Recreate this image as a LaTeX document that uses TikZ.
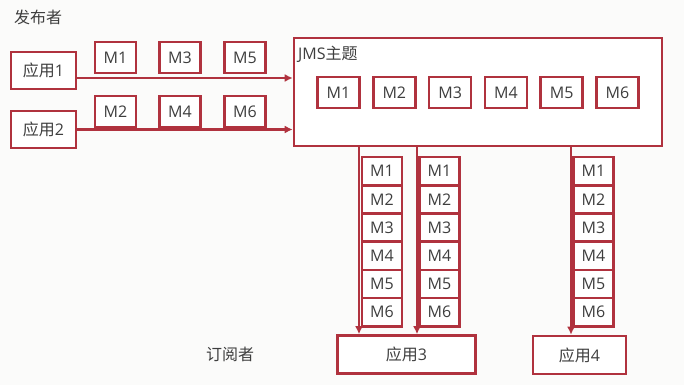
\documentclass[tikz,border=0pt]{standalone}
\usepackage{fontspec}
\setmainfont{Open Sans}
\newfontfamily\cjk{Noto Sans CJK SC}
\usetikzlibrary{arrows.meta,shadows}
\definecolor{jmsred}{RGB}{176,50,62}
\definecolor{txtgray}{RGB}{62,62,62}
\definecolor{paper}{RGB}{251,251,250}

\begin{document}
\begin{tikzpicture}[x=1pt, y=-1pt, every node/.style={font=\fontsize{16}{18}\selectfont, text=txtgray}, >={Latex[length=8pt,width=8pt]},
	box/.style={draw=jmsred, line width=2.6pt, fill=white, inner sep=0pt, drop shadow={shadow xshift=1.2pt, shadow yshift=-1.2pt, opacity=0.25}},
	msg/.style={box, minimum width=41pt, minimum height=31pt},
	cell/.style={box, minimum width=40pt, minimum height=28.2pt},
	link/.style={->, draw=jmsred, line width=2.2pt}]
	\fill[paper] (0,0) rectangle (684,385);
	\useasboundingbox (0,0) rectangle (684,385);
	\node (pub) at (38,17) {\cjk 发布者};
	\node (sub) at (230,354) {\cjk 订阅者};
	% publishers and queued messages
	\node[box, minimum width=65pt, minimum height=37pt] (app1) at (43.5,70.5) {{\cjk 应用}1};
	\node[box, minimum width=65pt, minimum height=37pt] (app2) at (43.5,129.5) {{\cjk 应用}2};
	\node[msg] (p1) at (115.5,57.5) {M1};
	\node[msg] (p3) at (180,57.5) {M3};
	\node[msg] (p5) at (245,57.5) {M5};
	\node[msg] (p2) at (115.5,111.5) {M2};
	\node[msg] (p4) at (180,111.5) {M4};
	\node[msg] (p6) at (245,111.5) {M6};
	% topic
	\node[box, minimum width=368pt, minimum height=108pt] (topic) at (478,92) {};
	\node[anchor=west, inner sep=0pt] (topicname) at (298,54) {JMS{\cjk 主题}};
	\foreach \i in {1,...,6}
		\node[msg, minimum width=42pt] (t\i) at (338.5+55.8*\i-55.8,92.5) {M\i};
	\draw[link] ([yshift=-7.5pt]app1.east) coordinate (a1) -- (a1 -| topic.west);
	\draw[link] (app2.east) -- (app2.east -| topic.west);
	% subscribers
	\node[box, minimum width=138pt, minimum height=38pt] (app3) at (406.5,354.5) {{\cjk 应用}3};
	\node[box, minimum width=93pt, minimum height=38pt] (app4) at (579.5,355) {{\cjk 应用}4};
	\coordinate (s1) at (359,0);
	\coordinate (s2) at (417,0);
	\coordinate (s3) at (571,0);
	\draw[link] (s1 |- topic.south) -- (s1 |- app3.north);
	\draw[link] (s2 |- topic.south) -- (s2 |- app3.north);
	\draw[link] (s3 |- topic.south) -- (s3 |- app4.north);
	\foreach \i in {1,...,6} {
		\node[cell] (a\i) at (382,143+28.2*\i) {M\i};
		\node[cell] (b\i) at (439.5,143+28.2*\i) {M\i};
		\node[cell] (c\i) at (593.5,143+28.2*\i) {M\i};
	}
\end{tikzpicture}
\end{document}
